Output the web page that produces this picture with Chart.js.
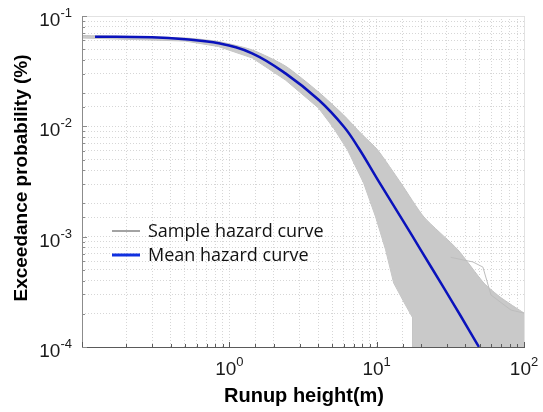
<!DOCTYPE html>
<html>
<head>
<meta charset="utf-8">
<script src="https://cdn.jsdelivr.net/npm/chart.js@4.4.1/dist/chart.umd.min.js"></script>
<style>
  html, body { margin: 0; padding: 0; background: #fff; }
</style>
</head>
<body>
<canvas id="js-chartjs-hazard" width="543" height="412"></canvas>
<script>
// Runup height (m) vs exceedance probability (%)
const meanX = [0.1226, 0.298, 0.502, 0.846, 1.427, 2.404, 4.051, 5.993, 7.54, 10.3, 15.0, 19.9, 28.1, 37.2, 48.6, 49.5];
const meanY = [0.0649, 0.0641, 0.0615, 0.0566, 0.0459, 0.0302, 0.01732, 0.00992, 0.00636, 0.00319, 0.001414, 0.00076, 0.000356, 0.000191, 0.000104, 0.0001];

// upper / lower edge of the bundle of sample curves
const bandTopX = [0.1, 0.502, 0.842, 1.434, 2.404, 4.031, 5.964, 7.78, 10.16, 14.6, 20.9, 35.6, 53.4, 69.8, 100];
const bandTopY = [0.0666, 0.0632, 0.0587, 0.0492, 0.0352, 0.02046, 0.01266, 0.0087, 0.0061, 0.00306, 0.00151, 0.00076, 0.00038, 0.00028, 0.000203];
const bandLowX = [0.1, 0.502, 0.842, 1.434, 2.404, 4.031, 5.10, 6.35, 8.16, 9.84, 11.5, 13.05, 15.7, 17.6, 17.6, 100];
const bandLowY = [0.0632, 0.0593, 0.0529, 0.0416, 0.0263, 0.01466, 0.00965, 0.0061, 0.00306, 0.00151, 0.00076, 0.00038, 0.00024, 0.000183, 0.0001, 0.0001];

// one stray sample curve on the right
const strayX = [31.8, 45.0, 52.6, 59.7, 81.6, 100];
const strayY = [0.00065, 0.00059, 0.00053, 0.000296, 0.000216, 0.000203];

const xTickValues = [1, 10, 100];
const xTickExps = ['0', '1', '2'];
const yTickValues = [0.1, 0.01, 0.001, 0.0001];
const yTickExps = ['-1', '-2', '-3', '-4'];

const sampleColor = '#c9c9c9';
const meanColor = '#0a12bc';

function toPoints(xs, ys) {
  return xs.map((x, i) => ({x: x, y: ys[i]}));
}

function isDecade(v) {
  const l = Math.log10(v);
  return Math.abs(l - Math.round(l)) < 1e-6;
}

function drawPower(ctx, exp, left, baseY) {
  ctx.font = '19px "Liberation Sans", Arial, sans-serif';
  ctx.fillText('10', left, baseY);
  const w = ctx.measureText('10').width;
  ctx.font = '13px "Liberation Sans", Arial, sans-serif';
  ctx.fillText(exp, left + w, baseY - 9);
}

function powerWidth(ctx, exp) {
  ctx.font = '19px "Liberation Sans", Arial, sans-serif';
  const w = ctx.measureText('10').width;
  ctx.font = '13px "Liberation Sans", Arial, sans-serif';
  return w + ctx.measureText(exp).width;
}

// axes box, inner ticks, power-of-ten labels, titles and legend
const hazardDecor = {
  id: 'hazardDecor',
  afterDraw(chart) {
    const {ctx, chartArea: a, scales: {x, y}} = chart;
    ctx.save();
    ctx.lineWidth = 1;

    ctx.strokeStyle = '#e2e2e2';
    ctx.beginPath();
    ctx.moveTo(a.left, a.top + .5);
    ctx.lineTo(a.right + .5, a.top + .5);
    ctx.lineTo(a.right + .5, a.bottom);
    ctx.stroke();

    ctx.strokeStyle = '#8c8c8c';
    ctx.beginPath();
    ctx.moveTo(a.left + .5, a.top);
    ctx.lineTo(a.left + .5, a.bottom);
    ctx.stroke();

    ctx.strokeStyle = '#5a5a5a';
    ctx.beginPath();
    ctx.moveTo(a.left, a.bottom + .5);
    ctx.lineTo(a.right + 1, a.bottom + .5);
    ctx.stroke();

    // ticks pointing inwards
    ctx.beginPath();
    x.ticks.forEach(t => {
      const px = Math.round(x.getPixelForValue(t.value)) + .5;
      const len = isDecade(t.value) ? 5 : 3;
      ctx.moveTo(px, a.bottom);
      ctx.lineTo(px, a.bottom - len);
    });
    ctx.stroke();
    ctx.strokeStyle = '#8c8c8c';
    ctx.beginPath();
    y.ticks.forEach(t => {
      const py = Math.round(y.getPixelForValue(t.value)) + .5;
      const len = isDecade(t.value) ? 5 : 3;
      ctx.moveTo(a.left, py);
      ctx.lineTo(a.left + len, py);
    });
    ctx.stroke();

    // tick labels
    ctx.fillStyle = '#1a1a1a';
    ctx.textAlign = 'left';
    ctx.textBaseline = 'alphabetic';
    xTickValues.forEach((v, i) => {
      const px = x.getPixelForValue(v);
      const w = powerWidth(ctx, xTickExps[i]);
      drawPower(ctx, xTickExps[i], px - w / 2, 375);
    });
    yTickValues.forEach((v, i) => {
      const py = y.getPixelForValue(v);
      const w = powerWidth(ctx, yTickExps[i]);
      drawPower(ctx, yTickExps[i], 72 - w, py + 10);
    });

    // axis titles
    ctx.fillStyle = '#000';
    ctx.font = 'bold 20px "Liberation Sans", Arial, sans-serif';
    ctx.textAlign = 'center';
    ctx.fillText('Runup height(m)', (a.left + a.right) / 2 + 1, 402);
    ctx.save();
    ctx.translate(27, 178);
    ctx.rotate(-Math.PI / 2);
    ctx.font = 'bold 19px "Liberation Sans", Arial, sans-serif';
    ctx.fillText('Exceedance probability (%)', 0, 0);
    ctx.restore();

    // legend
    const entries = [
      {label: chart.data.datasets[1].label, color: '#a3a3a3', width: 2, y: 231},
      {label: chart.data.datasets[0].label, color: '#1030e0', width: 3, y: 255}
    ];
    ctx.textAlign = 'left';
    ctx.textBaseline = 'middle';
    ctx.font = '18px "Open Sans", sans-serif';
    entries.forEach(e => {
      ctx.strokeStyle = e.color;
      ctx.lineWidth = e.width;
      ctx.beginPath();
      ctx.moveTo(112, e.y);
      ctx.lineTo(140, e.y);
      ctx.stroke();
      ctx.fillStyle = '#111';
      ctx.fillText(e.label, 148, e.y + 1);
    });
    ctx.restore();
  }
};

let chartHazardCon = document.getElementById('js-chartjs-hazard');

let chartHazardData = {
  datasets: [
    {
      label: 'Mean hazard curve',
      data: toPoints(meanX, meanY),
      showLine: true,
      borderColor: meanColor,
      borderWidth: 2.5,
      pointRadius: 0,
      tension: .4,
      fill: false
    },
    {
      label: 'Sample hazard curve',
      data: toPoints(strayX, strayY),
      showLine: true,
      borderColor: '#bdbdbd',
      borderWidth: 1,
      pointRadius: 0,
      fill: false
    },
    {
      label: 'Sample band upper',
      data: toPoints(bandTopX, bandTopY),
      showLine: true,
      borderColor: '#c2c2c2',
      backgroundColor: sampleColor,
      borderWidth: 1,
      pointRadius: 0,
      tension: .2,
      fill: 3
    },
    {
      label: 'Sample band lower',
      data: toPoints(bandLowX, bandLowY),
      showLine: true,
      borderColor: '#c2c2c2',
      borderWidth: 1,
      pointRadius: 0,
      tension: 0,
      fill: false
    }
  ]
};

let chartHazardOptions = {
  responsive: false,
  animation: false,
  layout: {
    padding: {left: 82, top: 16, right: 19, bottom: 65}
  },
  scales: {
    x: {
      type: 'logarithmic',
      min: 0.1,
      max: 100,
      ticks: {display: false},
      grid: {color: '#d6d6d6', drawTicks: false},
      border: {display: false, dash: [1, 2]}
    },
    y: {
      type: 'logarithmic',
      min: 0.0001,
      max: 0.1,
      ticks: {display: false},
      grid: {color: '#d6d6d6', drawTicks: false},
      border: {display: false, dash: [1, 2]}
    }
  },
  plugins: {
    legend: {display: false},
    tooltip: {enabled: false}
  }
};

new Chart(chartHazardCon, {type: 'scatter', data: chartHazardData, options: chartHazardOptions, plugins: [hazardDecor]});
</script>
</body>
</html>
